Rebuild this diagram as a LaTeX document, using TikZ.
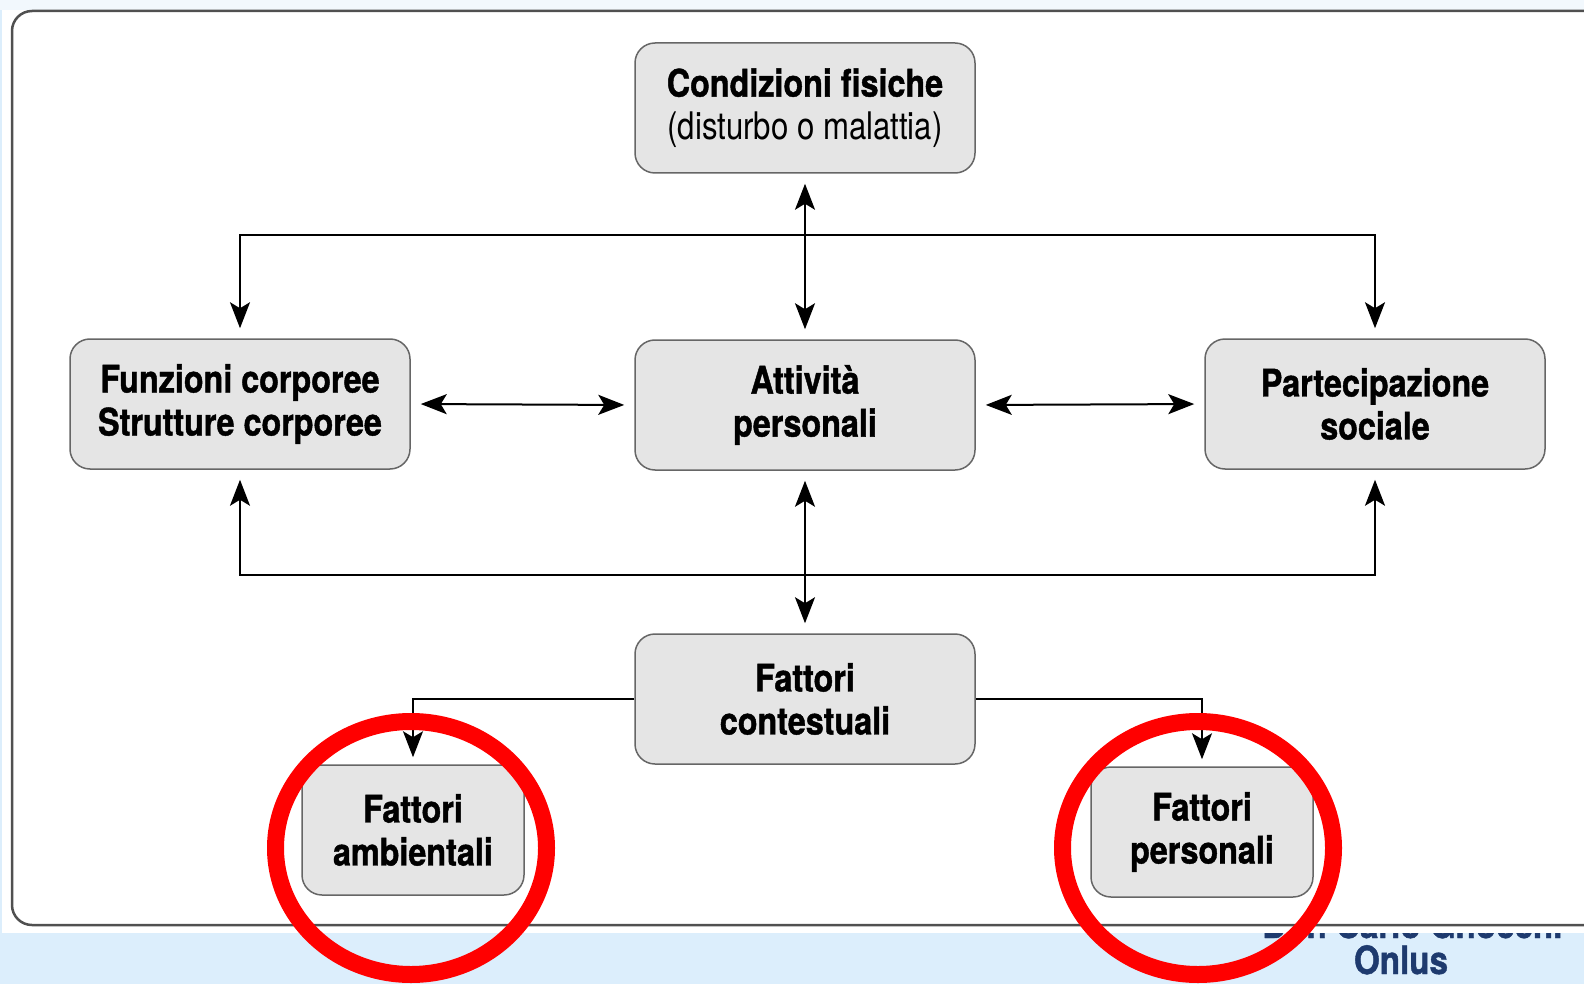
\documentclass[tikz,border=0pt]{standalone}
\usepackage{fontspec}
\usetikzlibrary{arrows.meta}
\newfontfamily\hcb{TeX Gyre Heros}[FakeStretch=0.85, FakeBold=1.1]
\newfontfamily\hcr{TeX Gyre Heros}[FakeStretch=0.82]
\definecolor{boxfill}{HTML}{E5E5E5}
\definecolor{boxline}{HTML}{666666}
\definecolor{framec}{HTML}{505050}
\definecolor{bgblue}{HTML}{DCEEFC}
\definecolor{toppale}{HTML}{F2F8FD}
\definecolor{navy}{HTML}{1E3A6E}
\definecolor{ringred}{HTML}{FF0000}
\begin{document}
\begin{tikzpicture}[x=0.5pt,y=-0.5pt,
  >={Stealth[length=13pt,width=10pt,inset=3pt]},
  box/.style={draw=boxline, fill=boxfill, line width=0.75pt, rounded corners=10pt,
    minimum width=170pt, minimum height=65pt, align=center, inner sep=0pt,
    font=\hcb\bfseries\fontsize{19pt}{21.5pt}\selectfont},
  smallbox/.style={box, minimum width=111pt},
  conn/.style={line width=1pt, black, shorten >=5pt, shorten <=5pt},
  subconn/.style={line width=0.8pt, black, shorten >=3.5pt},
  ring/.style={draw=ringred, line width=8.5pt},
  logo/.style={text=navy, inner sep=0pt, font=\hcb\bfseries\fontsize{19.5pt}{22pt}\selectfont}]
\useasboundingbox (0,0) rectangle (1584,984);
\clip (0,0) rectangle (1584,984);
% background
\fill[bgblue] (0,0) rectangle (1584,984);
\fill[toppale] (0,0) rectangle (1584,10);
\node[logo, anchor=base west] (gnocchi) at (1262,938) {Don Carlo Gnocchi};
\fill[white] (2,10) rectangle (1584,933);
\draw[framec, line width=1.25pt, rounded corners=10pt] (12,11) rectangle (1640,925);
\node[logo, anchor=base] (onlus) at (1401,974) {Onlus};
% boxes
\node[box] (cond) at (805,108) {Condizioni fisiche\\{\hcr\mdseries (disturbo o malattia)}};
\node[box] (fun) at (240,404) {Funzioni corporee\\Strutture corporee};
\node[box] (act) at (805,405) {Attività\\personali};
\node[box] (par) at (1375,404) {Partecipazione\\sociale};
\node[box] (ctx) at (805,699) {Fattori\\contestuali};
\node[smallbox] (amb) at (413,830) {Fattori\\ambientali};
\node[smallbox] (pers) at (1202,832) {Fattori\\personali};
% connector levels
\coordinate (topl) at (0,235);
\coordinate (botl) at (0,575);
\draw[conn,<->] (fun.north) -- (fun.north |- topl) -- (par.north |- topl) -- (par.north);
\draw[conn,<->] (cond.south) -- (act.north);
\draw[conn,<->] (fun.east) -- (act.west);
\draw[conn,<->] (act.east) -- (par.west);
\draw[conn,<->] (fun.south) -- (fun.south |- botl) -- (par.south |- botl) -- (par.south);
\draw[conn,<->] (act.south) -- (ctx.north);
\draw[subconn,->] (ctx.west) -- (ctx.west -| amb.north) -- (amb.north);
\draw[subconn,->] (ctx.east) -- (ctx.east -| pers.north) -- (pers.north);
% red rings
\draw[ring] (411,848) ellipse [x radius=67.75pt, y radius=63.25pt];
\draw[ring] (1198,848) ellipse [x radius=67.75pt, y radius=63.25pt];
\end{tikzpicture}
\end{document}
